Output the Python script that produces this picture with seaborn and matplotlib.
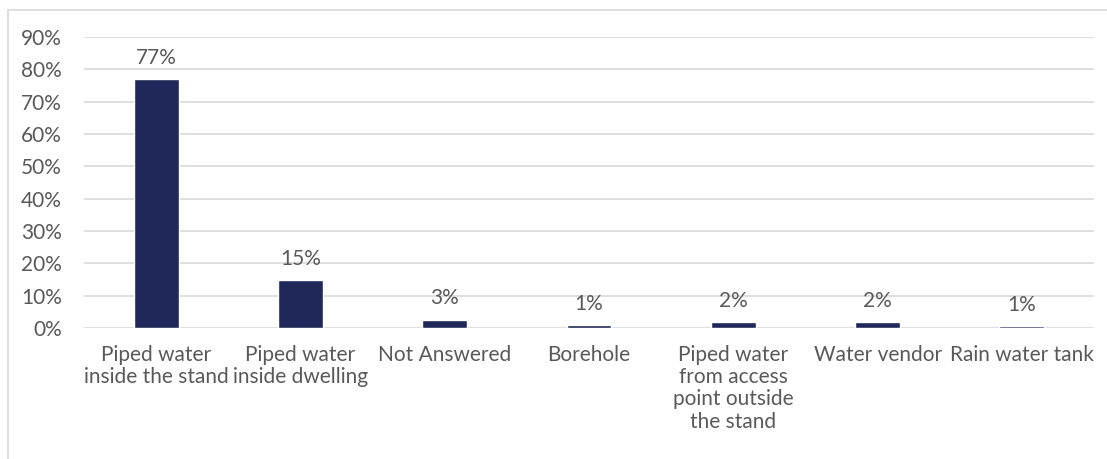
import matplotlib
matplotlib.use("Agg")
import matplotlib.pyplot as plt
from matplotlib.patches import Rectangle
from matplotlib.ticker import FuncFormatter
import pandas as pd
import seaborn as sns

categories = [
    "Piped water\ninside the stand",
    "Piped water\ninside dwelling",
    "Not Answered",
    "Borehole",
    "Piped water\nfrom access\npoint outside\nthe stand",
    "Water vendor",
    "Rain water tank",
]
shares = [76.9, 14.8, 2.6, 0.8, 1.8, 1.8, 0.5]
y_ticks = [0, 10, 20, 30, 40, 50, 60, 70, 80, 90]

df = pd.DataFrame({"source": categories, "share": shares})

sns.set_theme(style="white")
plt.rcParams["font.family"] = ["Lato", "DejaVu Sans"]

text_color = "#595959"
bar_color = "#1f2858"
grid_color = "#d9d9d9"
fs = 15

fig = plt.figure(figsize=(11.07, 4.59), dpi=100)
ax = fig.add_axes([84 / 1107, 1 - 328 / 459, 1010 / 1107, (328 - 37) / 459])

sns.barplot(data=df, x="source", y="share", color=bar_color, width=0.31,
            saturation=1, ax=ax)

ax.set_ylim(0, 90)
ax.set_yticks(y_ticks)
ax.yaxis.set_major_formatter(FuncFormatter(lambda v, _: f"{v:.0f}%"))
ax.set_xlim(-0.5, len(categories) - 0.5)
ax.grid(axis="y", color=grid_color, linewidth=1.2)
ax.set_axisbelow(True)
for s in ax.spines.values():
    s.set_visible(False)
ax.set_xlabel("")
ax.set_ylabel("")
ax.tick_params(axis="both", length=0, labelsize=fs, labelcolor=text_color)
ax.tick_params(axis="x", pad=12)
ax.tick_params(axis="y", pad=16)
for lbl in ax.get_xticklabels():
    lbl.set_linespacing(1.15)

# value labels, rounded half up
labels = [f"{int(v + 0.5)}%" for v in shares]
ax.bar_label(ax.containers[0], labels=labels, padding=8, fontsize=fs,
             color=text_color)

# chart frame
fig.patches.append(Rectangle((8 / 1107, -0.2), 1.2, 1.2 - 10 / 459,
                             transform=fig.transFigure, fill=False,
                             edgecolor=grid_color, linewidth=1.2))

fig.savefig("out.png", dpi=100)
